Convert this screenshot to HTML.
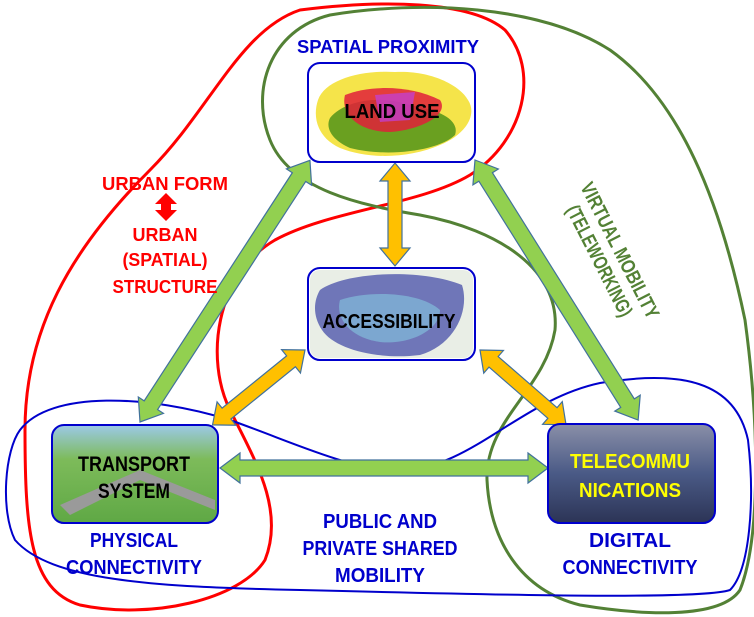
<!DOCTYPE html>
<html><head><meta charset="utf-8"><style>
html,body{margin:0;padding:0;background:#fff}
svg{display:block}
text{font-family:"Liberation Sans",sans-serif;font-weight:bold}
</style></head><body>
<svg width="754" height="617" viewBox="0 0 754 617" xmlns="http://www.w3.org/2000/svg">
<defs>
<linearGradient id="tr" x1="0" y1="0" x2="0" y2="1"><stop offset="0" stop-color="#9cc9e8"/><stop offset="0.35" stop-color="#7dbb5a"/><stop offset="1" stop-color="#5fa845"/></linearGradient>
<linearGradient id="tc" x1="0" y1="0" x2="0" y2="1"><stop offset="0" stop-color="#8a8fa8"/><stop offset="0.5" stop-color="#4a5a86"/><stop offset="1" stop-color="#2c3456"/></linearGradient>
</defs>
<path d="M300,10 C380,0 470,0 505,30 C540,70 525,140 470,175 C420,205 330,210 275,240 C215,275 205,360 230,410 C255,460 285,510 265,560 C240,600 150,620 80,605 C30,590 25,530 25,430 C25,330 70,250 150,170 C210,110 240,30 300,10 Z" fill="none" stroke="#ff0000" stroke-width="3"/>
<path d="M270,140 C250,90 270,30 330,15 C420,0 540,5 610,50 C680,100 720,200 745,320 C760,430 760,540 740,590 C720,620 640,615 580,605 C520,590 490,540 487,480 C485,420 545,390 555,330 C560,270 500,230 420,215 C360,205 290,190 270,140 Z" fill="none" stroke="#538135" stroke-width="3"/>
<path d="M20,430 C50,390 150,395 230,420 C300,445 350,470 400,470 C470,470 520,400 600,383 C680,370 735,380 748,440 C755,500 750,570 730,590 C700,600 500,595 300,590 C150,587 50,580 15,540 C0,510 5,450 20,430 Z" fill="none" stroke="#0000cc" stroke-width="2"/>
<g fill="#92d050" stroke="#41719c" stroke-width="1.2">
<polygon transform="translate(140,422) rotate(-57)" points="0,0 20,-15 20,-8 292,-8 292,-15 312,0 292,15 292,8 20,8 20,15"/>
<polygon transform="translate(475,160) rotate(57.9)" points="0,0 20,-15 20,-8 287,-8 287,-15 307,0 287,15 287,8 20,8 20,15"/>
<polygon transform="translate(220,468)" points="0,0 20,-15 20,-8 308,-8 308,-15 328,0 308,15 308,8 20,8 20,15"/>
</g>
<g fill="#ffc000" stroke="#41719c" stroke-width="1.2">
<polygon transform="translate(395,163) rotate(90)" points="0,0 18,-15 18,-7 85,-7 85,-15 103,0 85,15 85,7 18,7 18,15"/>
<polygon transform="translate(305,350) rotate(141)" points="0,0 18,-15 18,-7 101,-7 101,-15 119,0 101,15 101,7 18,7 18,15"/>
<polygon transform="translate(480,350) rotate(41)" points="0,0 18,-15 18,-7 96,-7 96,-15 114,0 96,15 96,7 18,7 18,15"/>
</g>
<rect x="308" y="63" width="167" height="99" rx="12" fill="#fff" stroke="#0000cc" stroke-width="2"/>
<path d="M318,100 C325,80 360,70 395,72 C430,70 460,85 468,100 C478,115 465,135 440,145 C410,158 370,160 340,148 C318,138 312,118 318,100 Z" fill="#f5e44a"/>
<path d="M330,118 C345,100 380,95 410,105 C440,110 460,120 455,135 C440,150 390,158 350,148 C332,140 325,128 330,118 Z" fill="#6aa020"/>
<path d="M345,95 C370,85 410,85 440,100 C450,115 420,130 390,132 C360,132 340,115 345,95 Z" fill="#e0203a" opacity="0.85"/>
<path d="M375,95 L415,92 L410,120 L380,122 Z" fill="#c040e0" opacity="0.7"/>
<text x="392" y="118" font-size="20" text-anchor="middle" fill="#000" textLength="95" lengthAdjust="spacingAndGlyphs">LAND USE</text>
<rect x="308" y="268" width="167" height="92" rx="12" fill="#fff" stroke="#0000cc" stroke-width="2"/>
<rect x="310" y="270" width="163" height="88" rx="10" fill="#e9eee6"/>
<path d="M320,290 C345,272 420,268 462,285 C470,310 455,345 420,355 C380,360 335,350 322,330 C312,315 314,300 320,290 Z" fill="#6f76b8"/>
<path d="M340,300 C370,290 420,292 440,310 C440,330 410,345 380,342 C350,338 335,318 340,300 Z" fill="#7fb4d6" opacity="0.8"/>
<text x="389" y="328" font-size="20" text-anchor="middle" fill="#000" textLength="133" lengthAdjust="spacingAndGlyphs">ACCESSIBILITY</text>
<rect x="52" y="425" width="166" height="98" rx="12" fill="url(#tr)" stroke="#0000cc" stroke-width="2"/>
<path d="M60,505 L140,470 L215,500 L215,510 L140,480 L70,515 Z" fill="#9a9a9a"/>
<text x="134" y="471" font-size="21" text-anchor="middle" fill="#000" textLength="112" lengthAdjust="spacingAndGlyphs">TRANSPORT</text>
<text x="134" y="498" font-size="21" text-anchor="middle" fill="#000" textLength="72" lengthAdjust="spacingAndGlyphs">SYSTEM</text>
<rect x="548" y="424" width="167" height="99" rx="12" fill="url(#tc)" stroke="#0000cc" stroke-width="2"/>
<text x="630" y="468" font-size="20" text-anchor="middle" fill="#ffff00" textLength="120" lengthAdjust="spacingAndGlyphs">TELECOMMU</text>
<text x="630" y="497" font-size="20" text-anchor="middle" fill="#ffff00" textLength="102" lengthAdjust="spacingAndGlyphs">NICATIONS</text>
<g fill="#0000cc" font-size="20" text-anchor="middle">
<text x="388" y="53" font-size="18" textLength="182" lengthAdjust="spacingAndGlyphs">SPATIAL PROXIMITY</text>
<text x="134" y="547" textLength="88" lengthAdjust="spacingAndGlyphs">PHYSICAL</text>
<text x="134" y="574" textLength="136" lengthAdjust="spacingAndGlyphs">CONNECTIVITY</text>
<text x="380" y="528" textLength="114" lengthAdjust="spacingAndGlyphs">PUBLIC AND</text>
<text x="380" y="555" textLength="155" lengthAdjust="spacingAndGlyphs">PRIVATE SHARED</text>
<text x="380" y="582" textLength="90" lengthAdjust="spacingAndGlyphs">MOBILITY</text>
<text x="630" y="547" textLength="82" lengthAdjust="spacingAndGlyphs">DIGITAL</text>
<text x="630" y="574" textLength="135" lengthAdjust="spacingAndGlyphs">CONNECTIVITY</text>
</g>
<g fill="#ff0000" font-size="18" text-anchor="middle">
<text x="165" y="190" textLength="126" lengthAdjust="spacingAndGlyphs">URBAN FORM</text>
<text x="165" y="241" textLength="65" lengthAdjust="spacingAndGlyphs">URBAN</text>
<text x="165" y="266" textLength="85" lengthAdjust="spacingAndGlyphs">(SPATIAL)</text>
<text x="165" y="293" textLength="105" lengthAdjust="spacingAndGlyphs">STRUCTURE</text>
</g>
<polygon points="166,193 177,204 171,204 171,210 177,210 166,221 155,210 161,210 161,204 155,204" fill="#ff0000"/>
<g fill="#538135" font-size="20" text-anchor="middle" transform="translate(605,258) rotate(63)">
<text x="0" y="-10" textLength="150" lengthAdjust="spacingAndGlyphs" font-weight="normal">VIRTUAL MOBILITY</text>
<text x="0" y="13" textLength="122" lengthAdjust="spacingAndGlyphs" font-weight="normal">(TELEWORKING)</text>
</g>
</svg>
</body></html>
